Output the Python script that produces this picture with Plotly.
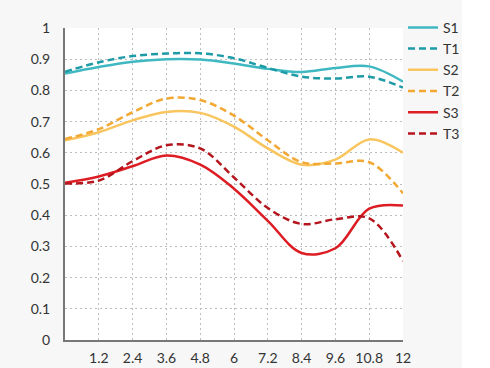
import plotly.graph_objects as go

x_vals = [0, 1.2, 2.4, 3.6, 4.8, 6, 7.2, 8.4, 9.6, 10.8, 12]
S1 = [0.854, 0.875, 0.892, 0.900, 0.899, 0.886, 0.869, 0.859, 0.872, 0.877, 0.828]
T1 = [0.860, 0.890, 0.910, 0.918, 0.919, 0.903, 0.872, 0.844, 0.838, 0.844, 0.809]
S2 = [0.640, 0.666, 0.704, 0.731, 0.728, 0.684, 0.614, 0.562, 0.578, 0.643, 0.600]
T2 = [0.644, 0.676, 0.730, 0.774, 0.769, 0.719, 0.640, 0.570, 0.566, 0.570, 0.470]
S3 = [0.504, 0.524, 0.557, 0.591, 0.562, 0.485, 0.382, 0.279, 0.294, 0.421, 0.431]
T3 = [0.502, 0.511, 0.573, 0.624, 0.614, 0.521, 0.423, 0.372, 0.387, 0.390, 0.253]

tick_vals = [1.2, 2.4, 3.6, 4.8, 6, 7.2, 8.4, 9.6, 10.8, 12]
tick_text = ["1.2", "2.4", "3.6", "4.8", "6", "7.2", "8.4", "9.6", "10.8", "12"]

series = [
    ("S1", S1, "#3fb8c2", "solid"),
    ("T1", T1, "#1d9ba6", "7px,4px"),
    ("S2", S2, "#f8c55e", "solid"),
    ("T2", T2, "#f2a833", "7px,4px"),
    ("S3", S3, "#dd1c23", "solid"),
    ("T3", T3, "#b5161e", "7px,4px"),
]

fig = go.Figure()
for name, vals, color, dash in series:
    fig.add_trace(go.Scatter(
        x=x_vals, y=vals, name=name, mode="lines",
        line=dict(color=color, width=2.5, dash=dash, shape="spline", smoothing=1.0),
    ))

font_family = "Lato, 'Noto Sans', sans-serif"

fig.update_layout(
    width=490, height=368,
    autosize=False,
    margin=dict(l=65, r=87, t=17, b=28, pad=0),
    paper_bgcolor="#f7f7f7",
    plot_bgcolor="#ffffff",
    font=dict(family=font_family, size=14, color="#333333"),
    showlegend=True,
    legend=dict(
        x=1.0, y=1.052, xanchor="left", yanchor="top",
        bgcolor="rgba(0,0,0,0)",
        font=dict(family=font_family, size=14, color="#333333"),
        tracegroupgap=0,
    ),
    xaxis=dict(
        range=[0, 12], tickvals=tick_vals, ticktext=tick_text,
        showgrid=True, gridcolor="#bdbdbd", gridwidth=1, griddash="2px,3px",
        showline=True, linecolor="#777777", linewidth=2,
        zeroline=False, ticks="", ticklabelstandoff=4, automargin=False,
        tickfont=dict(family=font_family, size=14, color="#333333"),
    ),
    yaxis=dict(
        range=[0, 1], dtick=0.1, tick0=0,
        showgrid=True, gridcolor="#bdbdbd", gridwidth=1, griddash="2px,3px",
        showline=True, linecolor="#777777", linewidth=2,
        zeroline=False, ticks="", ticklabelstandoff=10, automargin=False,
        tickfont=dict(family=font_family, size=14, color="#333333"),
    ),
    shapes=[dict(
        type="rect", xref="paper", yref="paper",
        x0=(462 - 65) / 338, x1=1.3, y0=-0.2, y1=1.1,
        fillcolor="#ffffff", line=dict(width=0), layer="below",
    )],
)

fig.write_html(
    "out.html",
    config={"displayModeBar": False},
    post_script="document.body.style.margin='0';",
)
